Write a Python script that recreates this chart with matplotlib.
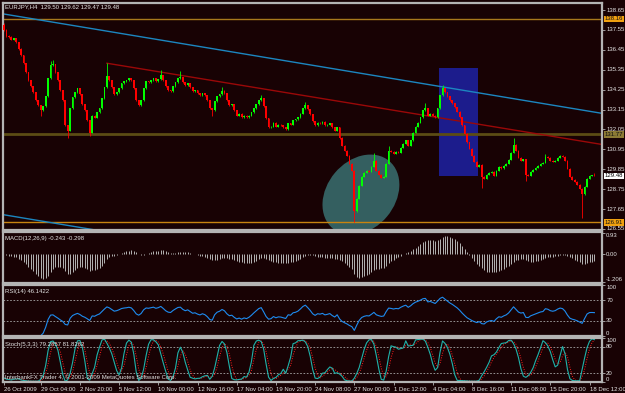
import pandas as pd
import matplotlib
matplotlib.use('Agg')
import matplotlib.pyplot as plt
from matplotlib.patches import Rectangle, Ellipse
from matplotlib import transforms

plt.rcParams['font.family'] = ['Liberation Sans', 'DejaVu Sans']
NARROW = ['Liberation Sans Narrow', 'Liberation Sans', 'DejaVu Sans']

# EURJPY H4 (bar closes, open = previous close)
first_open = 137.80
closes = [
    137.54, 137.21, 137.15, 137.02, 137.08, 136.87, 136.49, 136.15, 135.71, 135.21,
    134.77, 134.43, 134.10, 133.66, 133.38, 133.10, 133.32, 133.88, 134.88, 135.60,
    135.65, 135.21, 134.77, 134.21, 133.66, 132.27, 131.99, 133.21, 133.82, 134.10,
    134.32, 133.99, 133.43, 133.10, 132.55, 131.88, 132.82, 132.70, 132.99, 133.21,
    133.77, 134.38, 134.99, 134.77, 134.38, 133.99, 134.10, 134.32, 134.60, 134.71,
    134.77, 134.88, 134.77, 134.32, 133.66, 133.38, 133.66, 134.32, 134.71, 134.66,
    134.77, 134.88, 134.71, 134.82, 135.04, 134.77, 134.43, 134.21, 134.15, 134.43,
    134.66, 134.88, 134.93, 134.66, 134.49, 134.60, 134.38, 134.16, 134.21, 134.04,
    133.93, 134.04, 133.93, 133.66, 133.21, 133.10, 133.60, 133.88, 133.99, 134.20,
    134.05, 133.66, 133.38, 133.43, 133.10, 132.82, 132.90, 132.71, 132.82, 132.71,
    132.82, 132.99, 133.21, 133.43, 133.66, 133.77, 133.32, 132.66, 132.16, 132.21,
    132.43, 132.21, 132.30, 132.27, 132.16, 132.05, 132.38, 132.32, 132.55, 132.60,
    132.71, 132.93, 133.21, 133.38, 133.16, 132.88, 132.49, 132.27, 132.43, 132.38,
    132.45, 132.27, 132.32, 132.38, 132.16, 131.99, 132.16, 131.60, 131.16, 130.88,
    130.60, 130.16, 129.77, 127.55, 128.22, 128.94, 129.44, 129.66, 129.77, 129.71,
    129.99, 130.33, 129.77, 129.55, 129.38, 129.44, 130.16, 130.88, 130.82, 130.71,
    130.82, 130.77, 131.05, 131.27, 131.44, 131.16, 131.44, 131.88, 132.21, 132.43,
    132.71, 133.10, 133.21, 132.82, 132.93, 132.82, 132.71, 133.21, 133.93, 134.32,
    134.10, 133.88, 133.66, 133.49, 133.27, 133.04, 132.71, 132.27, 131.82, 131.33,
    130.99, 130.60, 130.27, 129.99, 130.10, 129.44, 129.33, 129.55, 129.66, 129.71,
    129.49, 129.77, 129.99, 129.90, 130.05, 130.16, 130.38, 130.77, 131.21, 130.88,
    130.49, 130.33, 130.40, 129.55, 129.50, 129.71, 129.82, 129.94, 130.05, 130.16,
    130.21, 130.55, 130.49, 130.33, 130.27, 130.33, 130.49, 130.60, 130.55, 130.33,
    129.88, 129.44, 129.27, 129.16, 129.00, 128.77, 128.49, 128.88, 129.33, 129.49,
    129.50, 129.48,
]
# long wicks (bar index -> price); other bars have a short wick
highs = {0: 137.95, 19: 135.85, 20: 135.90, 42: 135.71, 64: 135.32, 72: 135.30,
         89: 134.38, 105: 133.93, 123: 133.54, 151: 130.77, 157: 131.16,
         172: 133.49, 179: 134.49, 208: 131.55, 221: 130.71, 241: 129.62}
lows = {15: 132.82, 26: 131.60, 35: 131.71, 85: 132.82, 137: 131.50, 143: 126.91,
        195: 128.83, 213: 129.22, 236: 127.16, 241: 129.47}
WICK = 0.04

price_ticks = [138.65, 137.55, 136.45, 135.35, 134.25, 133.15, 132.05, 130.95,
               129.85, 128.75, 127.65, 126.55]
level_prices = [138.16, 131.77, 126.91]
level_colors = ['#a8781c', '#5c4c14', '#c88410']
level_widths = [1.0, 2.0, 1.0]
level_box = ['#f0a010', '#8c7a34', '#f0a010']

# drawn objects: (bar, price) anchors
blue_line = [(0, 138.43), (244.5, 132.93)]
blue_line2 = [(0, 127.33), (244.5, 121.83)]
red_line = [(42, 135.71), (244.5, 131.21)]
box_bars = (177.6, 193.5)
box_prices = (129.49, 135.43)
ellipse_center = (145.7, 128.44)

time_bars = [0, 15, 31, 47, 63, 79, 95, 111, 127, 143, 159, 175, 191, 207, 223, 239]
time_labels = ['26 Oct 2009', '29 Oct 04:00', '2 Nov 20:00', '5 Nov 12:00',
               '10 Nov 00:00', '12 Nov 16:00', '17 Nov 04:00', '19 Nov 20:00',
               '24 Nov 08:00', '27 Nov 00:00', '1 Dec 12:00', '4 Dec 04:00',
               '8 Dec 16:00', '11 Dec 08:00', '15 Dec 20:00', '18 Dec 12:00']

BG = '#180204'
FRAME = '#b4b4b4'
TXT = '#e4e4e4'
FS = 4.3

# indicators
close = pd.Series(closes)
opens = [first_open] + closes[:-1]
hi = pd.Series([highs.get(i, max(o, c) + WICK) for i, (o, c) in enumerate(zip(opens, closes))])
lo = pd.Series([lows.get(i, min(o, c) - WICK) for i, (o, c) in enumerate(zip(opens, closes))])

macd = close.ewm(span=12, adjust=False).mean() - close.ewm(span=26, adjust=False).mean()

diff = close.diff()
gain = diff.clip(lower=0).ewm(alpha=1 / 14, adjust=False, min_periods=14).mean()
loss = (-diff.clip(upper=0)).ewm(alpha=1 / 14, adjust=False, min_periods=14).mean()
rsi = 100 - 100 / (1 + gain / loss)

hh = hi.rolling(5, min_periods=1).max()
ll = lo.rolling(5, min_periods=1).min()
stoch_k = 100 * (close - ll).rolling(3, min_periods=1).sum() / (hh - ll).rolling(3, min_periods=1).sum()
stoch_d = stoch_k.rolling(3, min_periods=1).mean()

x = list(range(len(closes)))

fig = plt.figure(figsize=(6.25, 3.93), dpi=100, facecolor=BG)


def panel(top, bottom, ticks, labels, aligns):
    left, right = 3, 602
    a = fig.add_axes([left / 625, 1 - bottom / 393, (right - left) / 625, (bottom - top) / 393])
    a.set_facecolor(BG)
    a.set_xlim(-0.4, 244.1)
    for s in a.spines.values():
        s.set_color(FRAME)
        s.set_linewidth(1.6)
    a.yaxis.tick_right()
    a.tick_params(axis='y', colors=FRAME, labelcolor=TXT, labelsize=FS, length=2, pad=1, width=0.6)
    a.set_xticks([])
    a.set_yticks(ticks)
    a.set_yticklabels(labels)
    for t, va in zip(a.get_yticklabels(), aligns):
        t.set_va(va)
    return a


ax = panel(3, 230, price_ticks, ['%.2f' % p for p in price_ticks], ['center'] * len(price_ticks))
ax.set_ylim(126.49, 139.04)
ax_macd = panel(232, 283, [0.93, 0.0, -1.206], ['0.93', '0.00', '-1.206'], ['top', 'center', 'bottom'])
ax_macd.set_ylim(-1.26, 0.99)
ax_rsi = panel(285, 336, [100, 70, 30, 0], ['100', '70', '30', '0'], ['top', 'center', 'center', 'bottom'])
ax_rsi.set_ylim(0, 100)
ax_sto = panel(338, 382, [100, 80, 20, 0], ['100', '80', '20', '0'], ['top', 'center', 'center', 'bottom'])
ax_sto.set_ylim(0, 100)

# ---- price panel
ax.add_patch(Rectangle((box_bars[0], box_prices[0]), box_bars[1] - box_bars[0],
                       box_prices[1] - box_prices[0], facecolor='#1c1c8c', edgecolor='none', zorder=1))
ell = Ellipse((0, 0), 0.88, 0.68, angle=50, facecolor='#345f60', edgecolor='none', zorder=1,
              transform=fig.dpi_scale_trans + transforms.ScaledTranslation(*ellipse_center, ax.transData))
ax.add_patch(ell)

for p, col, w in zip(level_prices, level_colors, level_widths):
    ax.axhline(p, color=col, lw=w, zorder=2)
for line, col in [(blue_line, '#1c86c0'), (blue_line2, '#1c86c0'), (red_line, '#9a0808')]:
    ax.plot([line[0][0], line[1][0]], [line[0][1], line[1][1]], color=col, lw=1.0, zorder=2)

colors = ['#00ff00' if c >= o else '#ff0000' for o, c in zip(opens, closes)]
ax.vlines(x, lo, hi, colors=colors, lw=0.6, zorder=3)
bodies = [c - o if abs(c - o) > 0.02 else 0.03 for o, c in zip(opens, closes)]
ax.bar(x, bodies, bottom=opens, width=0.72, color=colors, linewidth=0, zorder=3)

ax.text(0.004, 1 - 1.5 / 227, 'EURJPY,H4  129.50 129.62 129.47 129.48', transform=ax.transAxes,
        va='top', ha='left', color=TXT, fontsize=FS)

tr = ax.get_yaxis_transform()
for p, fc in zip(level_prices, level_box):
    ax.text(1.005, p, '%.2f' % p, transform=tr, va='center', ha='left', fontsize=FS, color='#101010',
            bbox=dict(boxstyle='square,pad=0.15', fc=fc, ec='none'), clip_on=False, zorder=10)
ax.text(1.005, closes[-1], '%.2f' % closes[-1], transform=tr, va='center', ha='left', fontsize=FS,
        color='#000000', bbox=dict(boxstyle='square,pad=0.15', fc='#ffffff', ec='none'),
        clip_on=False, zorder=10)

# ---- MACD
ax_macd.vlines(x, 0, macd, colors='#b4b4b4', lw=0.7)
ax_macd.text(0.004, 0.93, 'MACD(12,26,9) -0.243 -0.298', transform=ax_macd.transAxes,
             va='top', ha='left', color=TXT, fontsize=FS)

# ---- RSI
for lvl in (70, 30):
    ax_rsi.axhline(lvl, color='#a8a8a8', lw=0.6, ls=(0, (2, 2)))
ax_rsi.plot(x, rsi, color='#1e8cf0', lw=0.8)
ax_rsi.text(0.004, 0.93, 'RSI(14) 46.1422', transform=ax_rsi.transAxes,
            va='top', ha='left', color=TXT, fontsize=FS)

# ---- Stochastic
for lvl in (80, 20):
    ax_sto.axhline(lvl, color='#a8a8a8', lw=0.6, ls=(0, (2, 2)))
ax_sto.plot(x, stoch_d, color='#ff2020', lw=0.7, ls=(0, (1, 1.5)))
ax_sto.plot(x, stoch_k, color='#20b2aa', lw=0.8)
ax_sto.text(0.004, 0.9, 'Stoch(5,3,3) 79.2857 81.8262', transform=ax_sto.transAxes,
            va='top', ha='left', color=TXT, fontsize=FS)
ax_sto.text(0.004, 0.05, 'InterbankFX Trader 4, \u00a9 2001-2009 MetaQuotes Software Corp.',
            transform=ax_sto.transAxes, va='bottom', ha='left', color=TXT, fontsize=FS)

ax_sto.set_xticks(time_bars)
ax_sto.set_xticklabels(time_labels, ha='left', family=NARROW)
ax_sto.tick_params(axis='x', colors=FRAME, labelcolor=TXT, labelsize=FS, length=2, pad=1.5, width=0.6)

fig.savefig('out.png', dpi=100, facecolor=BG)
